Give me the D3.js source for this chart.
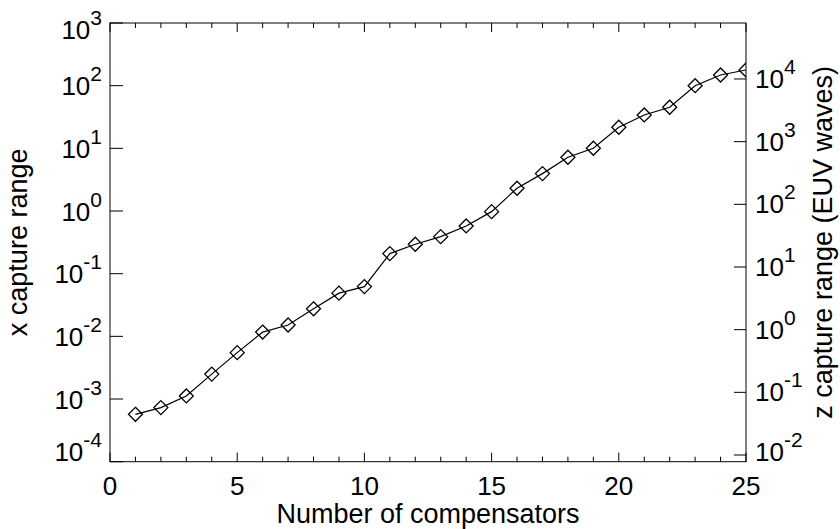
<!DOCTYPE html>
<html>
<head>
<meta charset="utf-8">
<script src="https://cdn.jsdelivr.net/npm/d3@7/dist/d3.min.js"></script>
<style>
  body { margin: 0; background: #fff; }
  text { font-family: "Liberation Sans", Arial, sans-serif; fill: #000; }
</style>
</head>
<body>
<svg id="chart" width="840" height="529"></svg>
<script>
// number of compensators
var compensators = [1,2,3,4,5,6,7,8,9,10,11,12,13,14,15,16,17,18,19,20,21,22,23,24,25];
// x capture range (left axis)
var xCapture = [5.7e-4,7.3e-4,1.12e-3,2.5e-3,5.5e-3,0.0117,0.0152,0.0275,0.0489,0.0622,
                0.209,0.295,0.390,0.578,0.977,2.31,3.95,7.22,10.05,21.7,34.1,45.3,100,148,178];
var leftTicks = [-4,-3,-2,-1,0,1,2,3];
var rightTicks = [-2,-1,0,1,2,3,4];
var xMajor = [0,5,10,15,20,25];
var zFactor = 78.2; // z (EUV waves) per unit x

var svg = d3.select("#chart");
var L = 110, R = 746, T = 23, B = 461.7;

var x = d3.scaleLinear().domain([0,25]).range([L,R]);
var y = d3.scaleLog().domain([1e-4,1e3]).range([B,T]);
var y2 = d3.scaleLog().domain([1e-4*zFactor,1e3*zFactor]).range([B,T]);

// frame
svg.append("rect").attr("x",L).attr("y",T).attr("width",R-L).attr("height",B-T)
   .attr("fill","none").attr("stroke","#000").attr("stroke-width",1);

// x ticks, bottom and top
var xMinor = d3.range(0,26);
xMinor.forEach(function(v) {
    var len = (v % 5 == 0) ? 9 : 5;
    svg.append("line").attr("x1",x(v)).attr("x2",x(v)).attr("y1",B).attr("y2",B-len).attr("stroke","#000");
    svg.append("line").attr("x1",x(v)).attr("x2",x(v)).attr("y1",T).attr("y2",T+len).attr("stroke","#000");
});
xMajor.forEach(function(v) {
    svg.append("text").attr("x",x(v)).attr("y",495).attr("text-anchor","middle")
       .style("font-size","26px").text(v);
});

function powLabel(sel, e) {
    sel.append("tspan").text("10");
    sel.append("tspan").attr("dy",-14).style("font-size","21px").text(e);
}

// left axis
leftTicks.forEach(function(e, i) {
    var ty = y(Math.pow(10,e));
    svg.append("line").attr("x1",L).attr("x2",L+13).attr("y1",ty).attr("y2",ty).attr("stroke","#000");
    var off = 9.5;
    if (i == 0) off = -1;
    if (i == leftTicks.length-1) off = 16;
    var t = svg.append("text").attr("x",102).attr("y",ty+off).attr("text-anchor","end").style("font-size","26px");
    powLabel(t, e);
});

// right axis
rightTicks.forEach(function(e, i) {
    var ty = y2(Math.pow(10,e));
    svg.append("line").attr("x1",R).attr("x2",R-12).attr("y1",ty).attr("y2",ty).attr("stroke","#000");
    var off = (i == 0) ? 6 : 9;
    var t = svg.append("text").attr("x",755).attr("y",ty+off).style("font-size","26px");
    powLabel(t, e);
});

// axis titles
svg.append("text").attr("x",(L+R)/2).attr("y",523).attr("text-anchor","middle")
   .style("font-size","27px").text("Number of compensators");
svg.append("text").attr("transform","translate(27,"+((T+B)/2)+") rotate(-90)")
   .attr("text-anchor","middle").style("font-size","27px").text("x capture range");
svg.append("text").attr("transform","translate(832,"+((T+B)/2)+") rotate(-90)")
   .attr("text-anchor","middle").style("font-size","27px").text("z capture range (EUV waves)");

// data
svg.append("clipPath").attr("id","plotclip").append("rect")
   .attr("x",L).attr("y",T).attr("width",R-L).attr("height",B-T);
var pts = compensators.map(function(c,i){ return [c, xCapture[i]]; });
var g = svg.append("g").attr("clip-path","url(#plotclip)");
g.append("path").datum(pts)
 .attr("d", d3.line().x(function(d){return x(d[0]);}).y(function(d){return y(d[1]);}))
 .attr("fill","none").attr("stroke","#000").attr("stroke-width",1.2);
g.selectAll("path.mk").data(pts).enter().append("path").attr("class","mk")
 .attr("d","M0,-7L7,0L0,7L-7,0Z")
 .attr("transform", function(d){ return "translate("+x(d[0])+","+y(d[1])+")"; })
 .attr("fill","none").attr("stroke","#000").attr("stroke-width",1.3);
</script>
</body>
</html>
